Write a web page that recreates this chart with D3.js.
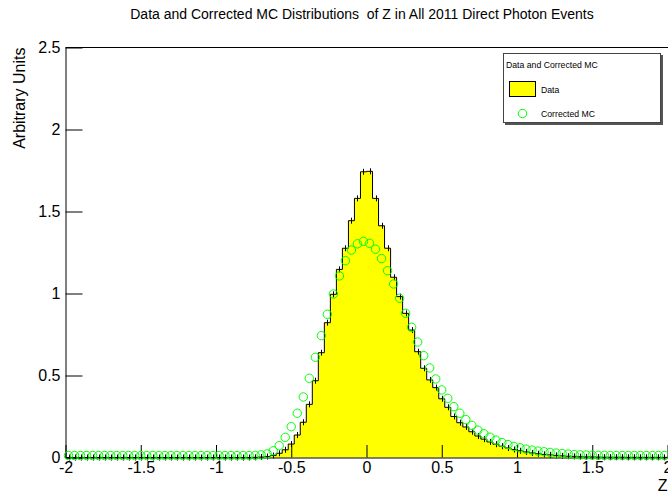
<!DOCTYPE html>
<html>
<head>
<meta charset="utf-8">
<script src="https://cdn.jsdelivr.net/npm/d3@7"></script>
<style>
  body { margin: 0; background: #fff; }
  svg { display: block; }
  text { font-family: "Liberation Sans", Arial, Helvetica, sans-serif; }
</style>
</head>
<body>
<div id="chart"></div>
<script>
// Chart text
const chartTitle = "Data and Corrected MC Distributions  of Z in All 2011 Direct Photon Events";
const xTitle = "Z";
const yTitle = "Arbitrary Units";
const legendTitle = "Data and Corrected MC";
const seriesNames = ["Data", "Corrected MC"];

// Binning: 100 bins of width 0.04 between -2 and 2
const zRange = [-2, 2];
const nBins = 100;
const binCenters = d3.range(nBins).map(i => zRange[0] + (zRange[1] - zRange[0]) * (i + 0.5) / nBins);

// Data histogram contents
const dataVals = [
  0, 0, 0, 0, 0, 0, 0, 0, 0, 0,
  0, 0, 0, 0, 0, 0, 0, 0, 0, 0,
  0, 0, 0, 0, 0, 0, 0, 0, 0, 0,
  0, 0.001, 0.003, 0.006, 0.012, 0.026, 0.047, 0.082, 0.137, 0.215,
  0.324, 0.468, 0.639, 0.822, 0.995, 1.147, 1.276, 1.444, 1.580, 1.742,
  1.745, 1.580, 1.413, 1.276, 1.099, 0.981, 0.879, 0.777, 0.645, 0.544,
  0.473, 0.426, 0.358, 0.306, 0.250, 0.212, 0.186, 0.157, 0.131, 0.112,
  0.095, 0.081, 0.069, 0.058, 0.049, 0.041, 0.034, 0.028, 0.023, 0.019,
  0.016, 0.013, 0.010, 0.008, 0.007, 0.005, 0.004, 0.004, 0.003, 0.002,
  0.002, 0.002, 0.002, 0.001, 0.001, 0.001, 0.001, 0.001, 0.001, 0.001
];

// Corrected MC contents (open circles)
const mcVals = [
  0.012, 0.012, 0.012, 0.012, 0.012, 0.012, 0.012, 0.012, 0.012, 0.012,
  0.012, 0.012, 0.012, 0.012, 0.012, 0.012, 0.012, 0.012, 0.012, 0.012,
  0.012, 0.012, 0.012, 0.012, 0.012, 0.012, 0.012, 0.012, 0.012, 0.012,
  0.012, 0.013, 0.016, 0.022, 0.041, 0.072, 0.123, 0.188, 0.270, 0.369,
  0.483, 0.611, 0.743, 0.873, 0.997, 1.107, 1.200, 1.265, 1.303, 1.318,
  1.306, 1.270, 1.213, 1.139, 1.058, 0.971, 0.879, 0.794, 0.704, 0.621,
  0.546, 0.479, 0.412, 0.361, 0.310, 0.270, 0.231, 0.196, 0.167, 0.145,
  0.124, 0.106, 0.091, 0.079, 0.068, 0.059, 0.051, 0.045, 0.039, 0.035,
  0.031, 0.027, 0.024, 0.021, 0.018, 0.016, 0.015, 0.014, 0.013, 0.013,
  0.012, 0.012, 0.012, 0.012, 0.012, 0.012, 0.012, 0.012, 0.012, 0.012
];

// Axis ticks
const xTicks = [-2, -1.5, -1, -0.5, 0, 0.5, 1, 1.5, 2];
const xTickLabels = ["-2", "-1.5", "-1", "-0.5", "0", "0.5", "1", "1.5", "2"];
const xMinorTicks = d3.range(-20, 21).map(i => i / 10);
const yTicks = [0, 0.5, 1, 1.5, 2, 2.5];
const yTickLabels = ["0", "0.5", "1", "1.5", "2", "2.5"];
const yMinorTicks = d3.range(0, 26).map(i => i / 10);

const width = 668, height = 493;
// the right edge of the pad falls just outside the canvas
const frame = { left: 65.5, right: 667.5, top: 47.5, bottom: 457.5 };

const svg = d3.select("#chart").append("svg")
  .attr("width", width)
  .attr("height", height);

const x = d3.scaleLinear().domain(zRange).range([frame.left, frame.right]);
const y = d3.scaleLinear().domain([0, 2.5]).range([frame.bottom, frame.top]);

const binW = (zRange[1] - zRange[0]) / nBins;
const steps = binCenters.map((c, i) => ({ z: c - binW / 2, v: dataVals[i] }));
steps.push({ z: zRange[1], v: dataVals[nBins - 1] });

// yellow filled histogram
svg.append("path")
  .datum(steps)
  .attr("fill", "#ffff00")
  .attr("d", d3.area().curve(d3.curveStepAfter)
    .x(d => x(d.z)).y0(y(0)).y1(d => y(d.v)));

svg.append("path")
  .datum(steps)
  .attr("fill", "none")
  .attr("stroke", "#000")
  .attr("stroke-width", 1)
  .attr("d", d3.line().curve(d3.curveStepAfter)
    .x(d => x(d.z)).y(d => y(d.v)));

// error crosses on data
svg.append("g")
  .selectAll("line")
  .data(binCenters)
  .join("line")
  .attr("x1", d => Math.round(x(d)) + 0.5)
  .attr("x2", d => Math.round(x(d)) + 0.5)
  .attr("y1", (d, i) => y(dataVals[i]) - 3)
  .attr("y2", (d, i) => y(dataVals[i]) + 3)
  .attr("stroke", "#000")
  .attr("stroke-width", 1);

// axes (ROOT style: ticks pointing inside)
const axisFont = 16;

const gx = svg.append("g").attr("transform", `translate(0,${frame.bottom})`);
gx.call(d3.axisBottom(x).tickValues(xMinorTicks).tickSize(-6).tickFormat(""));
gx.call(d3.axisBottom(x).tickValues(xTicks).tickSize(-12.5).tickSizeOuter(0)
  .tickPadding(4).tickFormat((d, i) => xTickLabels[i]));

const gy = svg.append("g").attr("transform", `translate(${frame.left},0)`);
gy.call(d3.axisLeft(y).tickValues(yMinorTicks).tickSize(-9).tickFormat(""));
gy.call(d3.axisLeft(y).tickValues(yTicks).tickSize(-17).tickSizeOuter(0)
  .tickPadding(5).tickFormat((d, i) => yTickLabels[i]));

svg.selectAll(".domain").attr("stroke", "#000");
svg.selectAll(".tick line").attr("stroke", "#000");
svg.selectAll(".tick text")
  .attr("font-family", "Liberation Sans, Arial, sans-serif")
  .attr("font-size", axisFont)
  .attr("fill", "#000");

// frame top
svg.append("line")
  .attr("x1", frame.left).attr("x2", width)
  .attr("y1", frame.top).attr("y2", frame.top)
  .attr("stroke", "#000");

// MC open circles
svg.append("g")
  .selectAll("circle")
  .data(binCenters)
  .join("circle")
  .attr("cx", d => x(d))
  .attr("cy", (d, i) => y(mcVals[i]))
  .attr("r", 4.2)
  .attr("fill", "none")
  .attr("stroke", "#00ff00")
  .attr("stroke-width", 1);

// titles
svg.append("text")
  .attr("x", 362).attr("y", 19)
  .attr("text-anchor", "middle")
  .attr("font-size", 14)
  .style("white-space", "pre")
  .text(chartTitle);

svg.append("text")
  .attr("x", frame.right).attr("y", 491)
  .attr("text-anchor", "end")
  .attr("font-size", axisFont)
  .text(xTitle);

svg.append("text")
  .attr("transform", `translate(25,${frame.top}) rotate(-90)`)
  .attr("text-anchor", "end")
  .attr("font-size", axisFont)
  .text(yTitle);

// legend with a small shadow on the right and bottom
const legend = svg.append("g");
legend.append("path")
  .attr("d", "M505,124 H662 V55")
  .attr("fill", "none")
  .attr("stroke", "#555")
  .attr("stroke-width", 2);
legend.append("rect")
  .attr("x", 503.5).attr("y", 53.5)
  .attr("width", 157).attr("height", 69)
  .attr("fill", "#fff")
  .attr("stroke", "#444");
legend.append("text")
  .attr("x", 506).attr("y", 67.5)
  .attr("font-size", 8.7)
  .text(legendTitle);
legend.append("rect")
  .attr("x", 509.5).attr("y", 81.5)
  .attr("width", 26).attr("height", 15)
  .attr("fill", "#ffff00")
  .attr("stroke", "#000");
legend.append("text")
  .attr("x", 541).attr("y", 92.5)
  .attr("font-size", 8.7)
  .text(seriesNames[0]);
legend.append("circle")
  .attr("cx", 522.5).attr("cy", 113.5)
  .attr("r", 4.2)
  .attr("fill", "none")
  .attr("stroke", "#00ff00");
legend.append("text")
  .attr("x", 541).attr("y", 116.5)
  .attr("font-size", 8.7)
  .text(seriesNames[1]);
</script>
</body>
</html>
